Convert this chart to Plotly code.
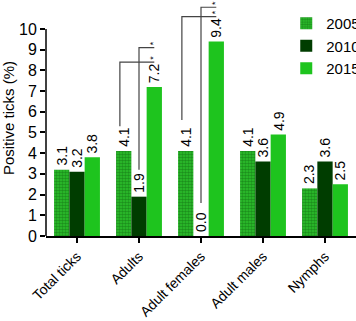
import plotly.graph_objects as go

categories = ["Total ticks", "Adults", "Adult females", "Adult males", "Nymphs"]
years = ["2005", "2010", "2015"]
values_2005 = [3.2, 4.1, 4.1, 4.1, 2.3]
values_2010 = [3.1, 1.9, 0.0, 3.6, 3.6]
values_2015 = [3.8, 7.2, 9.4, 4.9, 2.5]
labels_2005 = ["3.1", "4.1", "4.1", "4.1", "2.3"]
labels_2010 = ["3.2", "1.9", "0.0", "3.6", "3.6"]
labels_2015 = ["3.8", "7.2", "9.4", "4.9", "2.5"]
y_ticks = list(range(0, 11))

# significance brackets: (category index, from series, to series, leg bottom, bar top)
brackets = [
    (1, 0, 2, 5.3, 8.4),
    (1, 1, 2, 3.2, 9.1),
    (2, 0, 2, 5.6, 10.6),
    (2, 1, 2, 1.6, 11.05),
]

BARGAP = 0.26
bw = (1 - BARGAP) / 3
FONT = "Liberation Sans, Arial, sans-serif"

fig = go.Figure()
series = [
    (values_2005, labels_2005, dict(color="#27b527",
        pattern=dict(shape=".", fgcolor="#0b5e0b", bgcolor="#2cc22c", size=3, solidity=0.55))),
    (values_2010, labels_2010, dict(color="#003d00")),
    (values_2015, labels_2015, dict(color="#1ec41e")),
]
annotations = []
for si, (yr, (vals, labs, mk)) in enumerate(zip(years, series)):
    fig.add_trace(go.Bar(x=list(range(len(categories))), y=vals, name=yr,
                         marker=dict(line=dict(width=0), **mk)))
    for ci, (v, t) in enumerate(zip(vals, labs)):
        annotations.append(dict(x=ci + (si - 1) * bw, y=v, xref="x", yref="y", text=t,
                                showarrow=False, textangle=-90, yanchor="bottom",
                                xanchor="center", yshift=2,
                                font=dict(family=FONT, size=14, color="black")))

shapes = []
for ci, s1, s2, ylow, ytop in brackets:
    x1 = ci + (s1 - 1) * bw
    x2 = ci + (s2 - 1) * bw
    if s1 == 0:
        x1 -= bw * 0.25
    shapes.append(dict(type="path", xref="x", yref="y",
                       path=f"M {x1},{ylow} L {x1},{ytop} L {x2},{ytop}",
                       line=dict(color="#444", width=1.2)))
    annotations.append(dict(x=x2 - bw * 0.1, y=ytop, xref="x", yref="y", text="*",
                            showarrow=False, textangle=-90, yanchor="middle",
                            yshift=4, borderpad=0,
                            font=dict(family=FONT, size=9, color="black")))

# y axis line from 0 to 10 only
shapes.append(dict(type="line", xref="paper", yref="y", x0=0, x1=0,
                   y0=0, y1=max(y_ticks), line=dict(color="black", width=1.5)))

fig.update_layout(
    width=356, height=321,
    margin=dict(l=46, r=0, t=0, b=85, autoexpand=False),
    paper_bgcolor="white", plot_bgcolor="white",
    barmode="group", bargap=BARGAP, bargroupgap=0,
    font=dict(family=FONT, size=15, color="black"),
    shapes=shapes, annotations=annotations,
    legend=dict(x=0.775, y=0.97, xanchor="left", yanchor="top",
                font=dict(size=15), tracegroupgap=0, itemwidth=30,
                bgcolor="rgba(0,0,0,0)"),
)
fig.update_xaxes(tickvals=list(range(len(categories))), ticktext=categories,
                 range=[-0.5, len(categories) - 0.5],
                 showline=True, linecolor="black", linewidth=1.5,
                 ticks="outside", ticklen=5, tickwidth=1.5, tickcolor="black",
                 tickangle=-45, tickfont=dict(size=14), showgrid=False, automargin=False,
                 zeroline=False)
fig.update_yaxes(range=[0, 11.4], tickvals=y_ticks, showline=False,
                 ticks="outside", ticklen=5, tickwidth=1.5, tickcolor="black",
                 tickfont=dict(size=16), showgrid=False, zeroline=False, automargin=False,
                 title=dict(text="Positive ticks (%)", font=dict(size=15), standoff=4))

fig.write_html("out.html", config={"displayModeBar": False},
               post_script="document.body.style.margin='0';")
